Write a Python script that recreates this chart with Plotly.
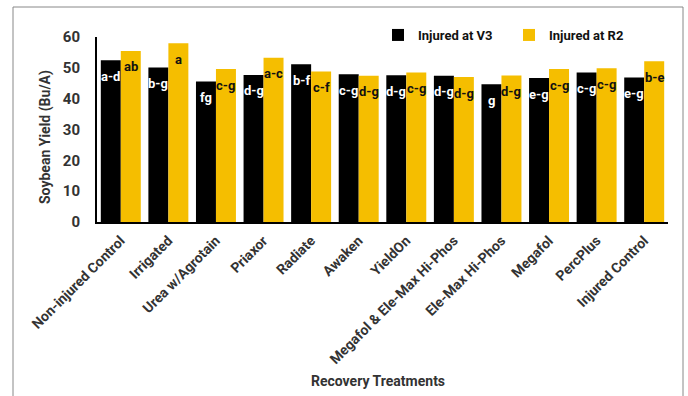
import plotly.graph_objects as go

categories = ["Non-injured Control", "Irrigated", "Urea w/Agrotain", "Priaxor", "Radiate",
              "Awaken", "YieldOn", "Megafol & Ele-Max Hi-Phos", "Ele-Max Hi-Phos",
              "Megafol", "PercPlus", "Injured Control"]
v3_values = [52.5, 50.1, 45.6, 47.7, 51.2, 47.9, 47.6, 47.4, 44.7, 46.7, 48.5, 46.9]
r2_values = [55.5, 58.0, 49.6, 53.3, 48.8, 47.4, 48.5, 47.0, 47.5, 49.6, 49.9, 52.1]
v3_letters = ["a-d", "b-g", "fg", "d-g", "b-f", "c-g", "d-g", "d-g", "g", "e-g", "c-g", "e-g"]
r2_letters = ["ab", "a", "c-g", "a-c", "c-f", "d-g", "c-g", "d-g", "d-g", "c-g", "c-g", "b-e"]
y_ticks = [0, 10, 20, 30, 40, 50, 60]

FONT = "Roboto, sans-serif"
GOLD = "#F5BE00"
BARGAP = 0.16

fig = go.Figure()
fig.add_trace(go.Bar(name="<b>Injured at V3</b>", x=categories, y=v3_values, marker_color="#000000",
                     marker_line_width=0))
fig.add_trace(go.Bar(name="<b>Injured at R2</b>", x=categories, y=r2_values, marker_color=GOLD,
                     marker_line_width=0))

off = (1 - BARGAP) / 4
for i, (a, b) in enumerate(zip(v3_values, r2_values)):
    fig.add_annotation(x=i - off, y=a, xref="x", yref="y", text=f"<b>{v3_letters[i]}</b>",
                       showarrow=False, yshift=-16, font=dict(family=FONT, size=13, color="#ffffff"))
    fig.add_annotation(x=i + off, y=b, xref="x", yref="y", text=f"<b>{r2_letters[i]}</b>",
                       showarrow=False, yshift=-16, font=dict(family=FONT, size=13, color="#111111"))

L, R, T, B = 97, 20, 37, 174
W, H = 688, 396
pw, ph = W - L - R, H - T - B

def px_x(x):
    return (x - L) / pw

def px_y(y):
    return (H - B - y) / ph

fig.add_annotation(text="<b>Recovery Treatments</b>", xref="paper", yref="paper",
                   x=px_x(378), y=px_y(381), xanchor="center", yanchor="middle", showarrow=False,
                   font=dict(family=FONT, size=14, color="#333333"))
fig.add_annotation(text="<b>Soybean Yield (Bu/A)</b>", xref="paper", yref="paper",
                   x=px_x(45), y=px_y(137), xanchor="center", yanchor="middle", showarrow=False,
                   textangle=-90, font=dict(family=FONT, size=14, color="#333333"))

fig.add_shape(type="rect", xref="paper", yref="paper",
              x0=px_x(13), x1=px_x(683), y0=px_y(420), y1=px_y(7),
              line=dict(color="#888888", width=1))

fig.update_layout(
    width=W, height=H,
    margin=dict(l=L, r=R, t=T, b=B),
    barmode="group", bargap=BARGAP, bargroupgap=0,
    plot_bgcolor="white", paper_bgcolor="white",
    font=dict(family=FONT, color="#333333"),
    showlegend=True,
    legend=dict(orientation="h", x=px_x(378), y=px_y(35), xanchor="left", yanchor="middle",
                font=dict(family=FONT, size=13, color="#111111"), bgcolor="rgba(0,0,0,0)",
                entrywidth=86, entrywidthmode="pixels", traceorder="normal"),
    xaxis=dict(showline=True, linecolor="#000000", linewidth=2, tickangle=-45,
               tickfont=dict(family=FONT, size=14, color="#333333"), showgrid=False,
               ticks="", range=[-0.5, 11.5], ticklabelstandoff=3,
               tickvals=categories, ticktext=[f"<b>{c}</b>" for c in categories]),
    yaxis=dict(showline=True, linecolor="#000000", linewidth=2, range=[0, 60],
               tickvals=y_ticks, ticktext=[f"<b>{v}</b>" for v in y_ticks],
               showgrid=False, zeroline=False, ticks="",
               ticklabelstandoff=12,
               tickfont=dict(family=FONT, size=15, color="#333333")),
)

fig.write_html("out.html")
